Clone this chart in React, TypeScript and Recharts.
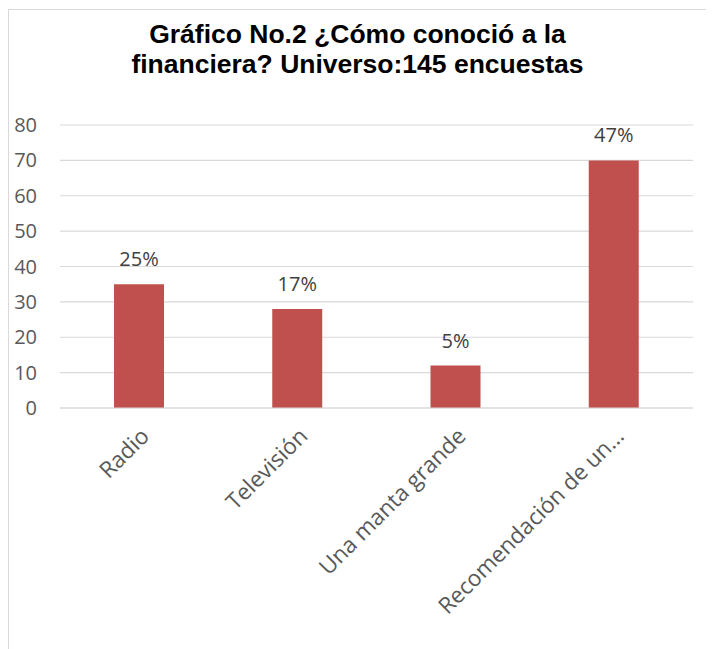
import { BarChart, Bar, XAxis, YAxis, CartesianGrid, LabelList } from 'recharts'

const categories = ['Radio', 'Televisión', 'Una manta grande', 'Recomendación de un…']
const counts = [35, 28, 12, 70]
const pctLabels = ['25%', '17%', '5%', '47%']
const yTicks = [0, 10, 20, 30, 40, 50, 60, 70, 80]

const data = categories.map((name, i) => ({ name, value: counts[i], pct: pctLabels[i] }))

const FONT = "'Open Sans', sans-serif"

const XTick = ({ x, y, payload }: any) => (
  <g transform={`translate(${x + 6},${y + 24}) rotate(-45)`}>
    <text textAnchor="end" dy="0.35em" fill="#595959" fontSize={22.5} fontFamily={FONT}>
      {payload.value}
    </text>
  </g>
)

export default function App() {
  return (
    <div style={{ position: 'relative', width: 697, height: 639, marginTop: 1, borderTop: '1px solid #D9D9D9', borderLeft: '1px solid #D9D9D9', background: '#fff' }}>
      <div style={{ position: 'absolute', left: 0, top: 9, width: 697, textAlign: 'center', fontFamily: "'Liberation Sans', Arial, sans-serif", fontWeight: 700, fontSize: 26.5, lineHeight: '30px', color: '#000' }}>
        Gráfico No.2 ¿Cómo conoció a la<br />financiera? Universo:145 encuestas
      </div>
      <BarChart width={697} height={639} data={data} margin={{ top: 115, right: 13, left: 0, bottom: 12 }}>
        <CartesianGrid vertical={false} stroke="#D9D9D9" strokeWidth={1.2} />
        <XAxis dataKey="name" height={229} tick={<XTick />} tickLine={false} tickSize={0} tickMargin={0} axisLine={{ stroke: '#D9D9D9', strokeWidth: 1.2 }} interval={0} />
        <YAxis width={51} domain={[0, 80]} ticks={yTicks} axisLine={false} tickLine={false} tickSize={0} tickMargin={23}
          tick={{ fill: '#595959', fontSize: 20, fontFamily: FONT }} />
        <Bar dataKey="value" fill="#C0504D" barSize={50} isAnimationActive={false}>
          <LabelList dataKey="pct" position="top" offset={18} fill="#404040" fontSize={20} fontFamily={FONT} />
        </Bar>
      </BarChart>
    </div>
  )
}
